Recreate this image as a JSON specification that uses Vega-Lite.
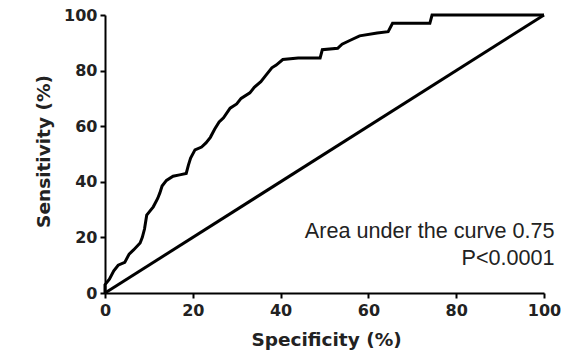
{
  "$schema": "https://vega.github.io/schema/vega-lite/v6.json",
  "width": 439,
  "height": 278,
  "autosize": "none",
  "padding": {"left": 105, "top": 15, "right": 42, "bottom": 59},
  "background": "white",
  "config": {"view": {"stroke": null}},
  "datasets": {
    "roc": [
      {"spec": 0, "sens": 0}, {"spec": 0, "sens": 3}, {"spec": 1, "sens": 5}, {"spec": 2, "sens": 8},
      {"spec": 3, "sens": 10}, {"spec": 4.5, "sens": 11}, {"spec": 5.5, "sens": 14}, {"spec": 6.5, "sens": 15.5},
      {"spec": 8, "sens": 18}, {"spec": 8.5, "sens": 20}, {"spec": 9, "sens": 23}, {"spec": 9.5, "sens": 28},
      {"spec": 10.5, "sens": 30}, {"spec": 11, "sens": 31}, {"spec": 12, "sens": 34}, {"spec": 12.5, "sens": 36},
      {"spec": 13, "sens": 38.5}, {"spec": 14, "sens": 40.5}, {"spec": 15.5, "sens": 42}, {"spec": 17, "sens": 42.5},
      {"spec": 18.5, "sens": 43}, {"spec": 19, "sens": 46}, {"spec": 19.5, "sens": 48.5}, {"spec": 20.5, "sens": 51.5},
      {"spec": 22, "sens": 52.5}, {"spec": 23, "sens": 54}, {"spec": 24, "sens": 56}, {"spec": 25, "sens": 59},
      {"spec": 26, "sens": 61.5}, {"spec": 27, "sens": 63}, {"spec": 28.5, "sens": 66.5}, {"spec": 30, "sens": 68},
      {"spec": 31, "sens": 70}, {"spec": 33, "sens": 72}, {"spec": 34, "sens": 74}, {"spec": 35.5, "sens": 76},
      {"spec": 36.5, "sens": 78}, {"spec": 38, "sens": 81}, {"spec": 39, "sens": 82}, {"spec": 40.5, "sens": 84},
      {"spec": 44, "sens": 84.5}, {"spec": 49, "sens": 84.5}, {"spec": 49.5, "sens": 87.5}, {"spec": 53, "sens": 88},
      {"spec": 54, "sens": 89.5}, {"spec": 56, "sens": 91}, {"spec": 58, "sens": 92.5}, {"spec": 62, "sens": 93.5},
      {"spec": 64.5, "sens": 94}, {"spec": 65.5, "sens": 97}, {"spec": 74, "sens": 97}, {"spec": 74.5, "sens": 100},
      {"spec": 100, "sens": 100}
    ],
    "diag": [{"spec": 0, "sens": 0}, {"spec": 100, "sens": 100}],
    "notes": [
      {"spec": 102.4, "sens": 19.8, "label": "Area under the curve 0.75"},
      {"spec": 102.4, "sens": 10.1, "label": "P<0.0001"}
    ]
  },
  "layer": [
    {
      "data": {"name": "diag"},
      "mark": {"type": "line", "color": "black", "strokeWidth": 3},
      "encoding": {
        "x": {"field": "spec", "type": "quantitative", "scale": {"domain": [0, 100], "nice": false},
          "axis": {"title": "Specificity (%)", "values": [0, 20, 40, 60, 80, 100], "grid": false,
            "domainColor": "black", "domainWidth": 2, "tickColor": "black", "tickWidth": 2, "tickSize": 5,
            "labelFont": "DejaVu Sans", "labelFontWeight": "bold", "labelFontSize": 16, "labelColor": "#222", "labelPadding": 4,
            "labelFlush": false,
            "titleFont": "DejaVu Sans", "titleFontWeight": "bold", "titleFontSize": 18.5, "titleColor": "#222",
            "titleBaseline": "alphabetic", "titleX": 221, "titleY": 52}},
        "y": {"field": "sens", "type": "quantitative", "scale": {"domain": [0, 100], "nice": false},
          "axis": {"title": "Sensitivity (%)", "values": [0, 20, 40, 60, 80, 100], "grid": false,
            "domainColor": "black", "domainWidth": 2, "tickColor": "black", "tickWidth": 2, "tickSize": 5,
            "labelFont": "DejaVu Sans", "labelFontWeight": "bold", "labelFontSize": 16, "labelColor": "#222", "labelPadding": 3,
            "labelFlush": false,
            "titleFont": "DejaVu Sans", "titleFontWeight": "bold", "titleFontSize": 18.5, "titleColor": "#222",
            "titleAngle": -90, "titleBaseline": "middle", "titleAlign": "center", "titleX": -62, "titleY": 136}}
      }
    },
    {
      "data": {"name": "roc"},
      "mark": {"type": "line", "color": "black", "strokeWidth": 3, "strokeJoin": "miter"},
      "encoding": {
        "x": {"field": "spec", "type": "quantitative"},
        "y": {"field": "sens", "type": "quantitative"},
        "order": {"field": "spec", "type": "quantitative"}
      }
    },
    {
      "data": {"name": "notes"},
      "mark": {"type": "text", "align": "right", "baseline": "alphabetic", "font": "Liberation Sans", "fontSize": 21.6, "color": "#222", "clip": false},
      "encoding": {
        "x": {"field": "spec", "type": "quantitative"},
        "y": {"field": "sens", "type": "quantitative"},
        "text": {"field": "label"}
      }
    }
  ]
}
